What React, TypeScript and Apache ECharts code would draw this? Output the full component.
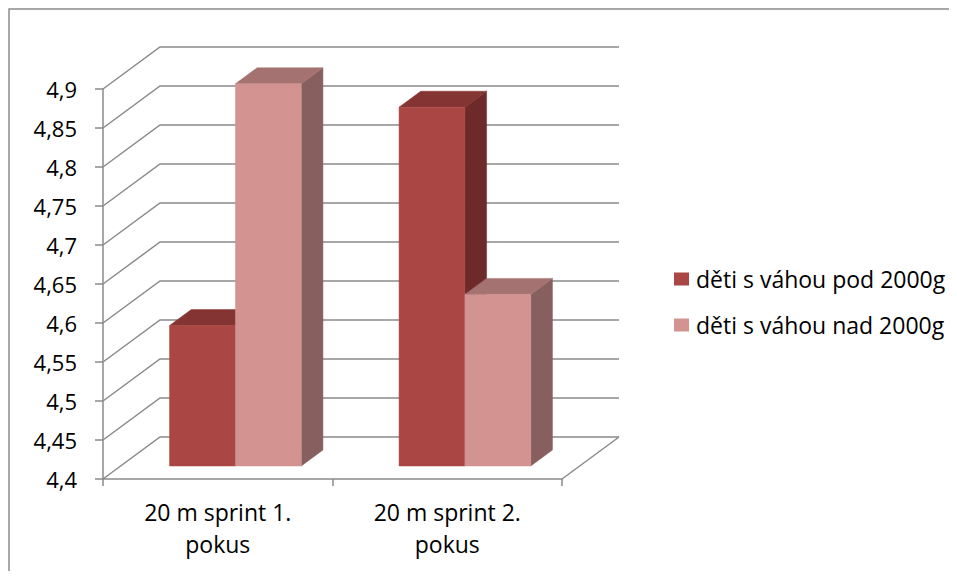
import React, { useEffect, useRef } from "react";
import * as echarts from "echarts";

// Sprint times (seconds) by birth-weight group
const categories = ["20 m sprint 1.\npokus", "20 m sprint 2.\npokus"];
const seriesNames = ["děti s váhou pod 2000g", "děti s váhou nad 2000g"];
const underWeight = [4.58, 4.86];
const overWeight = [4.89, 4.62];

// Value axis range
const yMin = 4.4;
const yMax = 4.9;
const yStep = 0.05;
const gridValues = Array.from(
  { length: Math.round((yMax - yMin) / yStep) + 1 },
  (_, i) => +(yMin + i * yStep).toFixed(2)
);

// Oblique projection of the plot depth
const DX = 57;
const DY = -42;
const F0 = 0.31; // front of bars as fraction of depth
const F1 = 0.69; // back of bars
const BAR_FRACTION = 0.287;

const FONT = "'Open Sans', 'Liberation Sans', sans-serif";
const GRID_COLOR = "#8a8a8a";

const faceColors = [
  { front: "#AA4643", top: "#843432", side: "#6D2A28" },
  { front: "#D39391", top: "#A37271", side: "#875F5E" },
];

function wallRenderer(params: any, api: any) {
  const cs = params.coordSys;
  const v = api.value(1);
  const y = api.coord([0, v])[1];
  const x0 = cs.x;
  const x1 = cs.x + cs.width;
  const children: any[] = [
    {
      type: "polyline",
      shape: {
        points: [
          [x0, y],
          [x0 + DX, y + DY],
          [x1 + DX, y + DY],
        ],
      },
      style: { stroke: GRID_COLOR, lineWidth: 1.5, fill: "none" },
    },
  ];
  if (params.dataIndex === 0) {
    children.push({
      type: "line",
      shape: { x1: x1, y1: y, x2: x1 + DX, y2: y + DY },
      style: { stroke: GRID_COLOR, lineWidth: 1.5 },
    });
  }
  return { type: "group", children };
}

function barRenderer(slot: number) {
  const c = faceColors[slot];
  return (params: any, api: any) => {
    const idx = api.value(0);
    const v = api.value(1);
    const band = api.size([1, 0])[0];
    const cx = api.coord([idx, v])[0];
    const yTop = api.coord([idx, v])[1];
    const yBase = api.coord([idx, yMin])[1];
    const barW = band * BAR_FRACTION;
    const xl = cx + F0 * DX - barW + slot * barW;
    const xr = xl + barW;
    const yt = yTop + F0 * DY;
    const yb = yBase + F0 * DY;
    const ddx = (F1 - F0) * DX;
    const ddy = (F1 - F0) * DY;
    const face = (points: number[][], fill: string) => ({
      type: "polygon",
      shape: { points },
      style: { fill, stroke: fill, lineWidth: 0.5 },
    });
    return {
      type: "group",
      children: [
        face(
          [
            [xr, yt],
            [xr + ddx, yt + ddy],
            [xr + ddx, yb + ddy],
            [xr, yb],
          ],
          c.side
        ),
        face(
          [
            [xl, yt],
            [xr, yt],
            [xr + ddx, yt + ddy],
            [xl + ddx, yt + ddy],
          ],
          c.top
        ),
        face(
          [
            [xl, yt],
            [xr, yt],
            [xr, yb],
            [xl, yb],
          ],
          c.front
        ),
      ],
    };
  };
}

export default function App() {
  const ref = useRef<HTMLDivElement>(null);

  useEffect(() => {
    if (!ref.current) return;
    const chart = echarts.init(ref.current, null, { renderer: "svg" });
    const seriesData = [underWeight, overWeight];
    chart.setOption({
      animation: false,
      backgroundColor: "#ffffff",
      graphic: [
        {
          type: "rect",
          shape: { x: 1, y: 1, width: 1200, height: 800 },
          style: { fill: "none", stroke: "#8c8c8c", lineWidth: 1.5 },
          silent: true,
          z: -10,
        },
      ],
      grid: { left: 95, top: 81, width: 459, height: 390 },
      legend: {
        data: seriesNames,
        orient: "vertical",
        left: 661,
        top: 253,
        itemWidth: 15,
        itemHeight: 13,
        itemGap: 20,
        icon: "rect",
        textStyle: {
          fontFamily: FONT,
          fontSize: 23,
          lineHeight: 26,
          color: "#000",
          padding: [0, 0, 0, 2],
        },
      },
      xAxis: {
        type: "category",
        data: categories,
        axisLine: { lineStyle: { color: GRID_COLOR, width: 1.5 } },
        axisTick: { show: true, length: 7, lineStyle: { color: GRID_COLOR, width: 1.5 } },
        axisLabel: {
          fontFamily: FONT,
          fontSize: 23,
          lineHeight: 32,
          color: "#000",
          margin: 17,
        },
        splitLine: { show: false },
      },
      yAxis: {
        type: "value",
        min: yMin,
        max: yMax,
        interval: yStep,
        axisLine: { show: true, lineStyle: { color: GRID_COLOR, width: 1.5 } },
        axisTick: { show: true, length: 8, lineStyle: { color: GRID_COLOR, width: 1.5 } },
        splitLine: { show: false },
        axisLabel: {
          fontFamily: FONT,
          fontSize: 22,
          color: "#000",
          margin: 26,
          formatter: (v: number) => String(+v.toFixed(2)).replace(".", ","),
        },
      },
      series: [
        {
          type: "custom",
          name: "walls",
          silent: true,
          z: 1,
          renderItem: wallRenderer,
          data: gridValues.map((v) => [0, v]),
          encode: { x: 0, y: 1 },
        },
        ...seriesNames.map((name, s) => ({
          type: "custom",
          name,
          z: 2 + s,
          itemStyle: { color: faceColors[s].front },
          renderItem: barRenderer(s),
          data: seriesData[s].map((v, i) => [i, v]),
          encode: { x: 0, y: 1 },
        })),
      ],
    });
    return () => chart.dispose();
  }, []);

  return <div ref={ref} style={{ width: 941, height: 563 }} />;
}
